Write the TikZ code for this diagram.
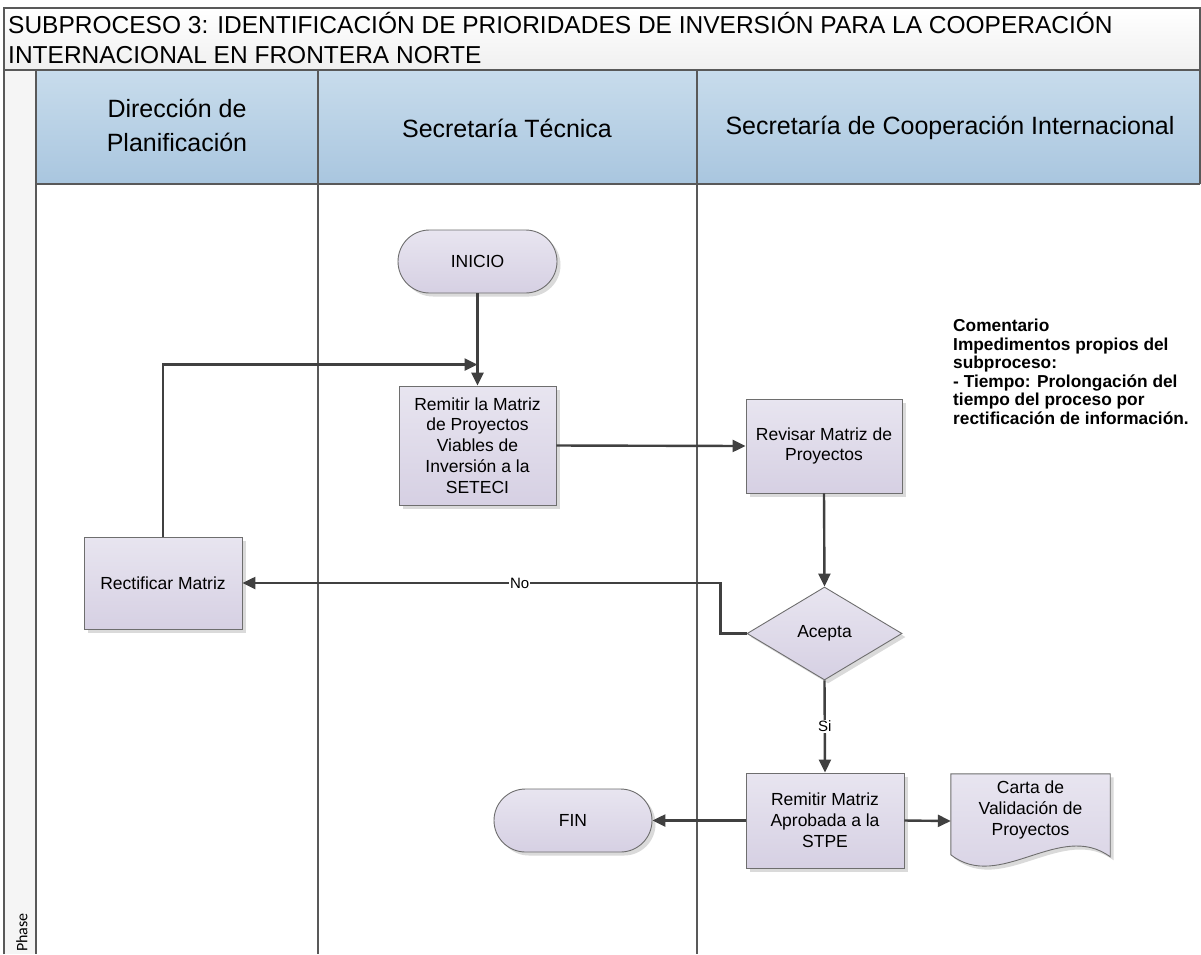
\documentclass[tikz,border=0pt]{standalone}
\usepackage{fontspec}
\setmainfont{Liberation Sans}
\newfontfamily\phasefont{Carlito}
\usetikzlibrary{arrows.meta,shapes.geometric,shapes.misc,shadows,calc}

\definecolor{linegray}{HTML}{404040}
\definecolor{lanegray}{HTML}{595959}
\definecolor{boxtop}{HTML}{E8E5F0}
\definecolor{boxbot}{HTML}{D6D0E3}
\definecolor{boxedge}{HTML}{6E6E6E}
\definecolor{headtop}{HTML}{C8DCEC}
\definecolor{headbot}{HTML}{A9C6DF}
\definecolor{shadowgray}{HTML}{DADADA}

\begin{document}
\begin{tikzpicture}[x=1pt,y=-1pt,
  boxbase/.style={draw=boxedge, line width=0.9pt, top color=boxtop, bottom color=boxbot,
    inner sep=0pt, align=center, font=\fontsize{17.5}{20.8}\selectfont,
    general shadow={fill=shadowgray, shadow xshift=3.5pt, shadow yshift=-3.5pt}},
  proc/.style={boxbase, rectangle, minimum width=157pt, minimum height=94pt},
  term/.style={boxbase, rounded rectangle, minimum width=159pt, minimum height=63pt},
  decision/.style={boxbase, diamond, minimum width=155pt, minimum height=93pt},
  flow/.style={draw=linegray, line width=2.4pt, -{Triangle[length=13pt,width=12pt]}},
  lane/.style={draw=lanegray, line width=1.6pt},
  headtxt/.style={align=center, inner sep=0pt, font=\fontsize{25}{34}\selectfont},
  titletxt/.style={anchor=base west, inner sep=0pt, font=\fontsize{24.5}{30}\selectfont},
  lbl/.style={fill=white, inner sep=1pt, font=\fontsize{15}{15}\selectfont}
]
% page and frame
\fill[white] (0,0) rectangle (1201,954);
\useasboundingbox (0,0) rectangle (1201,954);
\shade[top color=white, bottom color=black!6] (4,8) rectangle (1200,70);
\fill[black!4] (4,70) rectangle (36,954);
\shade[top color=headtop, bottom color=headbot] (36,70) rectangle (1200,184);

\draw[lane] (4,954) -- (4,8) -- (1200,8) -- (1200,184);
\draw[lane] (4,70) -- (1200,70);
\draw[lane] (36,70) -- (36,954);
\draw[lane] (36,184) -- (1200,184);
\draw[lane] (318,70) -- (318,954);
\draw[lane] (697,70) -- (697,954);

% title and lane headers
\node[titletxt] (title1) at (8,33) {SUBPROCESO 3: IDENTIFICACIÓN DE PRIORIDADES DE INVERSIÓN PARA LA COOPERACIÓN};
\node[titletxt] (title2) at (8,63) {INTERNACIONAL EN FRONTERA NORTE};
\node[headtxt] (h1) at (177,125) {Dirección de\\Planificación};
\node[headtxt] (h2) at (507,128) {Secretaría Técnica};
\node[headtxt] (h3) at (950,128) {Secretaría de Cooperación Internacional};
\node[rotate=90, anchor=west, inner sep=0pt, font=\phasefont\fontsize{16}{16}\selectfont] (phase) at (22,952) {Phase};

% flow nodes
\node[term] (inicio) at (477.5,261.5) {INICIO};
\node[proc, minimum height=119pt] (remitir) at (477.5,445.5) {Remitir la Matriz\\de Proyectos\\Viables de\\Inversión a la\\SETECI};
\node[proc, minimum width=156pt] (revisar) at (824,446) {Revisar Matriz de\\Proyectos};
\node[decision] (acepta) at (824.5,633.5) {Acepta};
\node[proc, minimum width=158pt, minimum height=92pt] (rectificar) at (163,583) {Rectificar Matriz};
\node[proc, minimum width=158pt, minimum height=95pt] (aprobada) at (825,820.5) {Remitir Matriz\\Aprobada a la\\STPE};
\node[term, minimum width=158pt] (fin) at (573,820.5) {FIN};

% document shape
\node[minimum width=159pt, minimum height=94pt, inner sep=0pt] (carta) at (1030.5,821) {};
\fill[shadowgray] ($(carta.north west)+(3.5,3.5)$) -- ($(carta.north east)+(3.5,3.5)$)
  -- ($(carta.north east)+(3.5,86.5)$)
  .. controls ($(carta.north west)+(112.5,49.5)$) and ($(carta.north west)+(52.5,122.5)$) ..
  ($(carta.north west)+(3.5,84.5)$) -- cycle;
\shade[top color=boxtop, bottom color=boxbot] (carta.north west) -- (carta.north east)
  -- ($(carta.north east)+(0,83)$)
  .. controls ($(carta.north west)+(109,46)$) and ($(carta.north west)+(49,119)$) ..
  ($(carta.north west)+(0,81)$) -- cycle;
\draw[boxedge, line width=0.9pt] (carta.north west) -- (carta.north east)
  -- ($(carta.north east)+(0,83)$)
  .. controls ($(carta.north west)+(109,46)$) and ($(carta.north west)+(49,119)$) ..
  ($(carta.north west)+(0,81)$) -- cycle;
\node[align=center, inner sep=0pt, font=\fontsize{17.5}{20.8}\selectfont] (cartatxt) at (1030.5,810) {Carta de\\Validación de\\Proyectos};

% comment
\node[anchor=north west, align=left, inner sep=0pt, font=\bfseries\fontsize{17.3}{18.5}\selectfont] (comment) at (953,319)
  {Comentario\\Impedimentos propios del\\subproceso:\\- Tiempo: Prolongación del\\tiempo del proceso por\\rectificación de información.};

% connectors
\coordinate (loopend) at ($(remitir.north)+(0,-21)$);
\draw[flow] (inicio.south) -- (remitir.north);
\draw[flow] (rectificar.north) |- (loopend);
\draw[flow] (remitir.east) -- (revisar.west);
\draw[flow] (revisar.south) -- (acepta.north);
\draw[flow] (acepta.west) -- ++(-26,0) |- node[lbl, pos=0.71] {No} (rectificar.east);
\draw[flow] (acepta.south) -- node[lbl] {Si} (aprobada.north);
\draw[flow] (aprobada.west) -- (fin.east);
\draw[flow] (aprobada.east) -- (carta.west);
\end{tikzpicture}
\end{document}
